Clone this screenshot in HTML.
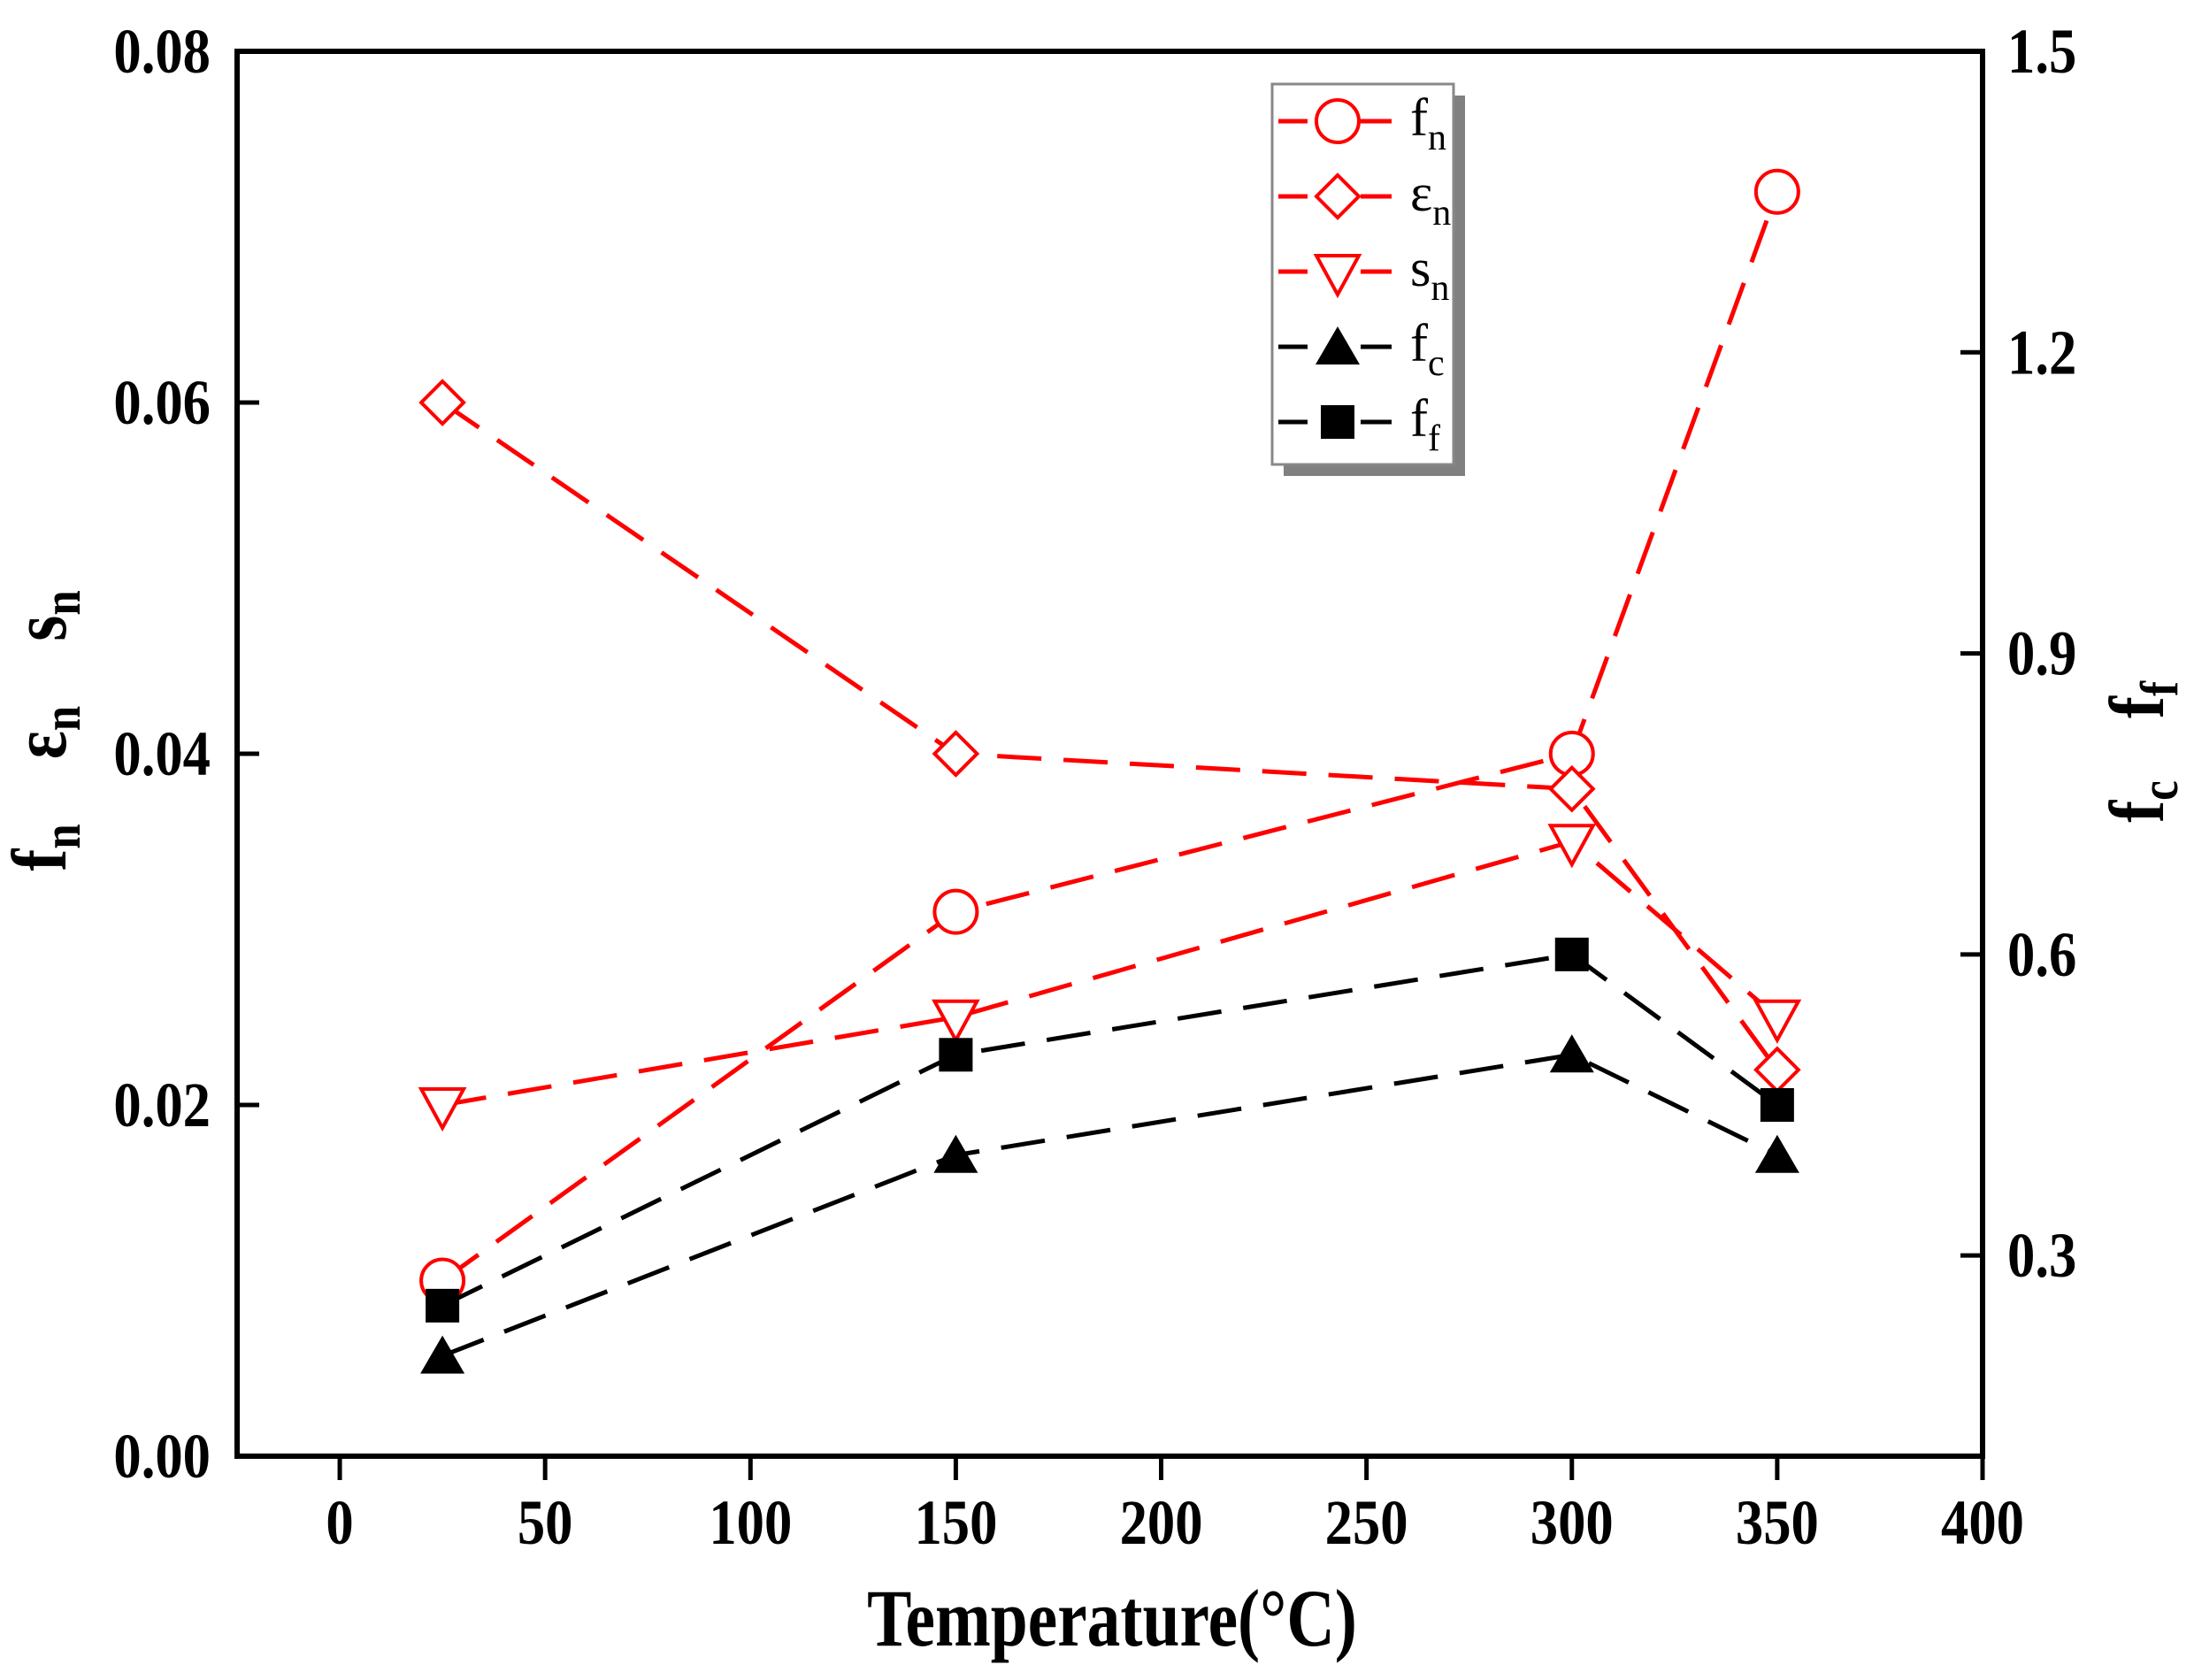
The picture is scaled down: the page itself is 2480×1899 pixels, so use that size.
<!DOCTYPE html>
<html><head><meta charset="utf-8">
<style>
html,body{margin:0;padding:0;background:#fff;}
svg{display:block;font-family:"Liberation Serif",serif;}
</style></head>
<body>
<svg id="chart" width="2480" height="1899" viewBox="0 0 2480 1899" xmlns="http://www.w3.org/2000/svg">
<g id="marks"></g>
<g id="axes"></g>
<g font-size="88" font-weight="bold">
<text transform="translate(74,958) rotate(-90) scale(0.85,1)" text-anchor="middle">f<tspan font-size="60" dy="16">n</tspan></text>
<text transform="translate(74,828) rotate(-90) scale(0.85,1)" text-anchor="middle">ε<tspan font-size="60" dy="16">n</tspan></text>
<text transform="translate(74,696) rotate(-90) scale(0.85,1)" text-anchor="middle">s<tspan font-size="60" dy="16">n</tspan></text>
</g>
<g font-size="88" font-weight="bold">
<text transform="translate(2445,906) rotate(-90) scale(0.85,1)" text-anchor="middle">f<tspan font-size="60" dy="16">c</tspan></text>
<text transform="translate(2445,791) rotate(-90) scale(0.85,1)" text-anchor="middle">f<tspan font-size="60" dy="16">f</tspan></text>
</g>
<text transform="translate(1257,1860) scale(0.82,1)" text-anchor="middle" font-size="92" font-weight="bold">Temperature(°C)</text>
<g id="legend"></g>
</svg>
<script>
const categories = [25, 150, 300, 350];
const fnValues = [0.01, 0.031, 0.04, 0.072];
const enValues = [0.06, 0.04, 0.038, 0.022];
const snValues = [0.02, 0.025, 0.035, 0.025];
const fcValues = [0.2, 0.4, 0.5, 0.4];
const ffValues = [0.25, 0.5, 0.6, 0.45];
const xTicks = [0, 50, 100, 150, 200, 250, 300, 350, 400];
const yLeftTicks = ["0.00", "0.02", "0.04", "0.06", "0.08"];
const yRightTicks = ["0.3", "0.6", "0.9", "1.2", "1.5"];

const NS = "http://www.w3.org/2000/svg";
const L = 268, R = 2241, T = 58, B = 1646;
const xMin = -25, xMax = 400, yLMin = 0, yLMax = 0.08, yRMin = 0.1, yRMax = 1.5;
function sx(v){ return L + (v - xMin) / (xMax - xMin) * (R - L); }
function syL(v){ return B - (v - yLMin) / (yLMax - yLMin) * (B - T); }
function syR(v){ return B - (v - yRMin) / (yRMax - yRMin) * (B - T); }
function mk(tag, attrs, parent){
  const e = document.createElementNS(NS, tag);
  for (const k in attrs) e.setAttribute(k, attrs[k]);
  parent.appendChild(e); return e;
}
const marks = document.getElementById('marks');
const axes = document.getElementById('axes');
const legend = document.getElementById('legend');

function marker(kind, cx, cy, color, parent){
  let e;
  if (kind === 'circle') e = mk('circle', {cx:cx, cy:cy, r:24, fill:'#fff', stroke:color, 'stroke-width':4}, parent);
  else if (kind === 'diamond') e = mk('polygon', {points:`${cx},${cy-24} ${cx+24},${cy} ${cx},${cy+24} ${cx-24},${cy}`, fill:'#fff', stroke:color, 'stroke-width':4}, parent);
  else if (kind === 'down') e = mk('polygon', {points:`${cx-24},${cy-18} ${cx+24},${cy-18} ${cx},${cy+26}`, fill:'#fff', stroke:color, 'stroke-width':4}, parent);
  else if (kind === 'up') e = mk('polygon', {points:`${cx-25},${cy+20} ${cx+25},${cy+20} ${cx},${cy-23}`, fill:color}, parent);
  else e = mk('rect', {x:cx-19, y:cy-19, width:38, height:38, fill:color}, parent);
  return e;
}
const series = [
  {name:'fn', vals:fnValues, axis:'L', color:'#ff0000', m:'circle'},
  {name:'en', vals:enValues, axis:'L', color:'#ff0000', m:'diamond'},
  {name:'sn', vals:snValues, axis:'L', color:'#ff0000', m:'down'},
  {name:'fc', vals:fcValues, axis:'R', color:'#000000', m:'up'},
  {name:'ff', vals:ffValues, axis:'R', color:'#000000', m:'square'}
];
series.forEach(s => {
  const sy = s.axis === 'L' ? syL : syR;
  const pts = categories.map((c,i) => sx(c) + ',' + sy(s.vals[i])).join(' ');
  const line = mk('polyline', {points:pts, fill:'none', stroke:s.color, 'stroke-width':5, 'stroke-dasharray':'50 25'}, marks);
  
  
  categories.forEach((c,i) => {
    const p = marker(s.m, sx(c), sy(s.vals[i]), s.color, marks);
    
    
  });
});

const frame = mk('rect', {x:L, y:T, width:R-L, height:B-T, fill:'none', stroke:'#000', 'stroke-width':6}, axes);


function label(txt, x, y, anchor){
  const lb = mk('text', {transform:`translate(${x},${y}) scale(0.87,1)`, 'text-anchor':anchor, 'font-size':72, 'font-weight':'bold'}, axes);
  lb.textContent = txt;
  return lb;
}
xTicks.forEach(v => {
  const x = sx(v);
  const t = mk('line', {x1:x, y1:B, x2:x, y2:B+27, stroke:'#000', 'stroke-width':5}, axes);
  
  
  const lb = label(v, x, B+99, 'middle');
  
  
});
yLeftTicks.forEach(v => {
  const y = syL(parseFloat(v));
  const t = mk('line', {x1:L, y1:y, x2:L+25, y2:y, stroke:'#000', 'stroke-width':5}, axes);
  
  
  const lb = label(v, L-30, y+24, 'end');
  
  
});
yRightTicks.forEach(v => {
  const y = syR(parseFloat(v));
  const t = mk('line', {x1:R, y1:y, x2:R-25, y2:y, stroke:'#000', 'stroke-width':5}, axes);
  
  
  const lb = label(v, R+28, y+24, 'start');
  
  
});

const sh = mk('rect', {x:1451, y:108, width:205, height:430, fill:'#808080'}, legend);


const box = mk('rect', {x:1438, y:95, width:205, height:430, fill:'#fff', stroke:'#888', 'stroke-width':3}, legend);


const labels = [['f','n'],['ε','n'],['s','n'],['f','c'],['f','f']];
series.forEach((s,i) => {
  const y = 137 + i*85;
  const g = mk('g', {}, legend);
  
  
  mk('line', {x1:1445, y1:y, x2:1478, y2:y, stroke:s.color, 'stroke-width':5}, g);
  mk('line', {x1:1538, y1:y, x2:1573, y2:y, stroke:s.color, 'stroke-width':5}, g);
  marker(s.m, 1512, y, s.color, g);
  const t = mk('text', {x:1594, y:y+16, 'font-size':60}, g);
  t.textContent = labels[i][0];
  const sub = mk('tspan', {'font-size':42, dy:16}, t);
  sub.textContent = labels[i][1];
});
</script>
</body></html>
